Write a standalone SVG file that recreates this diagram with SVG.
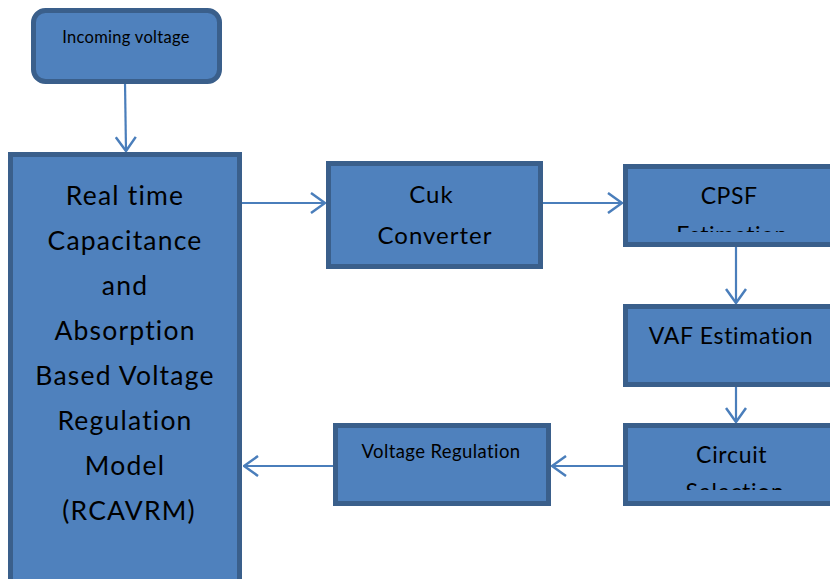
<svg xmlns="http://www.w3.org/2000/svg" width="830" height="579" viewBox="0 0 830 579">
<style>
.box{fill:#4F81BD;stroke:#3A5F8B;stroke-width:5}
.t{font-family:Lato,"Open Sans","Liberation Sans",sans-serif;fill:#000;text-anchor:middle}
.c{fill:none;stroke:#4A7EBB;stroke-width:2.2}
</style>
<defs>
<marker id="ah" viewBox="0 0 16 22" refX="15" refY="11" markerWidth="16" markerHeight="22" markerUnits="userSpaceOnUse" orient="auto">
<path d="M1,1 L15,11 L1,21" fill="none" stroke="#4A7EBB" stroke-width="2.5"/>
</marker>
<clipPath id="clipCPSF"><rect x="620" y="160" width="220" height="72"/></clipPath>
<clipPath id="clipCS"><rect x="620" y="420" width="220" height="70"/></clipPath>
</defs>
<rect width="830" height="579" fill="#fff"/>
<g id="connectors">
<line class="c" x1="125" y1="82" x2="126" y2="151" marker-end="url(#ah)"/>
<line class="c" x1="242" y1="203" x2="325" y2="203" marker-end="url(#ah)"/>
<line class="c" x1="543" y1="203" x2="622" y2="203" marker-end="url(#ah)"/>
<line class="c" x1="736" y1="246" x2="736" y2="303" marker-end="url(#ah)"/>
<line class="c" x1="736" y1="386" x2="736" y2="422" marker-end="url(#ah)"/>
<line class="c" x1="626" y1="466" x2="552" y2="466" marker-end="url(#ah)"/>
<line class="c" x1="333" y1="466" x2="244" y2="466" marker-end="url(#ah)"/>
</g>
<g id="incoming">
<rect class="box" x="33.5" y="10.5" width="186" height="71" rx="12"/>
<text class="t" x="126" y="43" font-size="16.5" letter-spacing="0.3">Incoming voltage</text>
</g>
<g id="rcavrm">
<rect class="box" x="10.5" y="154.5" width="229" height="440"/>
<text class="t" font-size="26.5" letter-spacing="1.2">
<tspan x="129" y="205">Real time</tspan>
<tspan x="129" y="250">Capacitance</tspan>
<tspan x="129" y="295">and</tspan>
<tspan x="129" y="340">Absorption</tspan>
<tspan x="129" y="385">Based Voltage</tspan>
<tspan x="129" y="430">Regulation</tspan>
<tspan x="129" y="475">Model</tspan>
<tspan x="129" y="520">(RCAVRM)</tspan>
</text>
</g>
<g id="cuk">
<rect class="box" x="328.5" y="163.5" width="212" height="103"/>
<text class="t" font-size="24" letter-spacing="1">
<tspan x="435" y="203">Cuk</tspan>
<tspan x="435" y="244">Converter</tspan>
</text>
</g>
<g id="cpsf">
<rect class="box" x="625.5" y="166.5" width="220" height="78"/>
<g clip-path="url(#clipCPSF)">
<text class="t" font-size="23" letter-spacing="0.5">
<tspan x="732" y="204">CPSF</tspan>
<tspan x="732" y="243">Estimation</tspan>
</text>
</g>
</g>
<g id="vaf">
<rect class="box" x="625.5" y="306.5" width="220" height="78"/>
<text class="t" x="731" y="344" font-size="23" letter-spacing="0.7">VAF Estimation</text>
</g>
<g id="circuit">
<rect class="box" x="625.5" y="425.5" width="220" height="78"/>
<g clip-path="url(#clipCS)">
<text class="t" font-size="23" letter-spacing="0.7">
<tspan x="735" y="463">Circuit</tspan>
<tspan x="735" y="500">Selection</tspan>
</text>
</g>
</g>
<g id="vreg">
<rect class="box" x="335.5" y="425.5" width="213" height="78"/>
<text class="t" x="441" y="458" font-size="18.5" letter-spacing="0.4">Voltage Regulation</text>
</g>
</svg>
